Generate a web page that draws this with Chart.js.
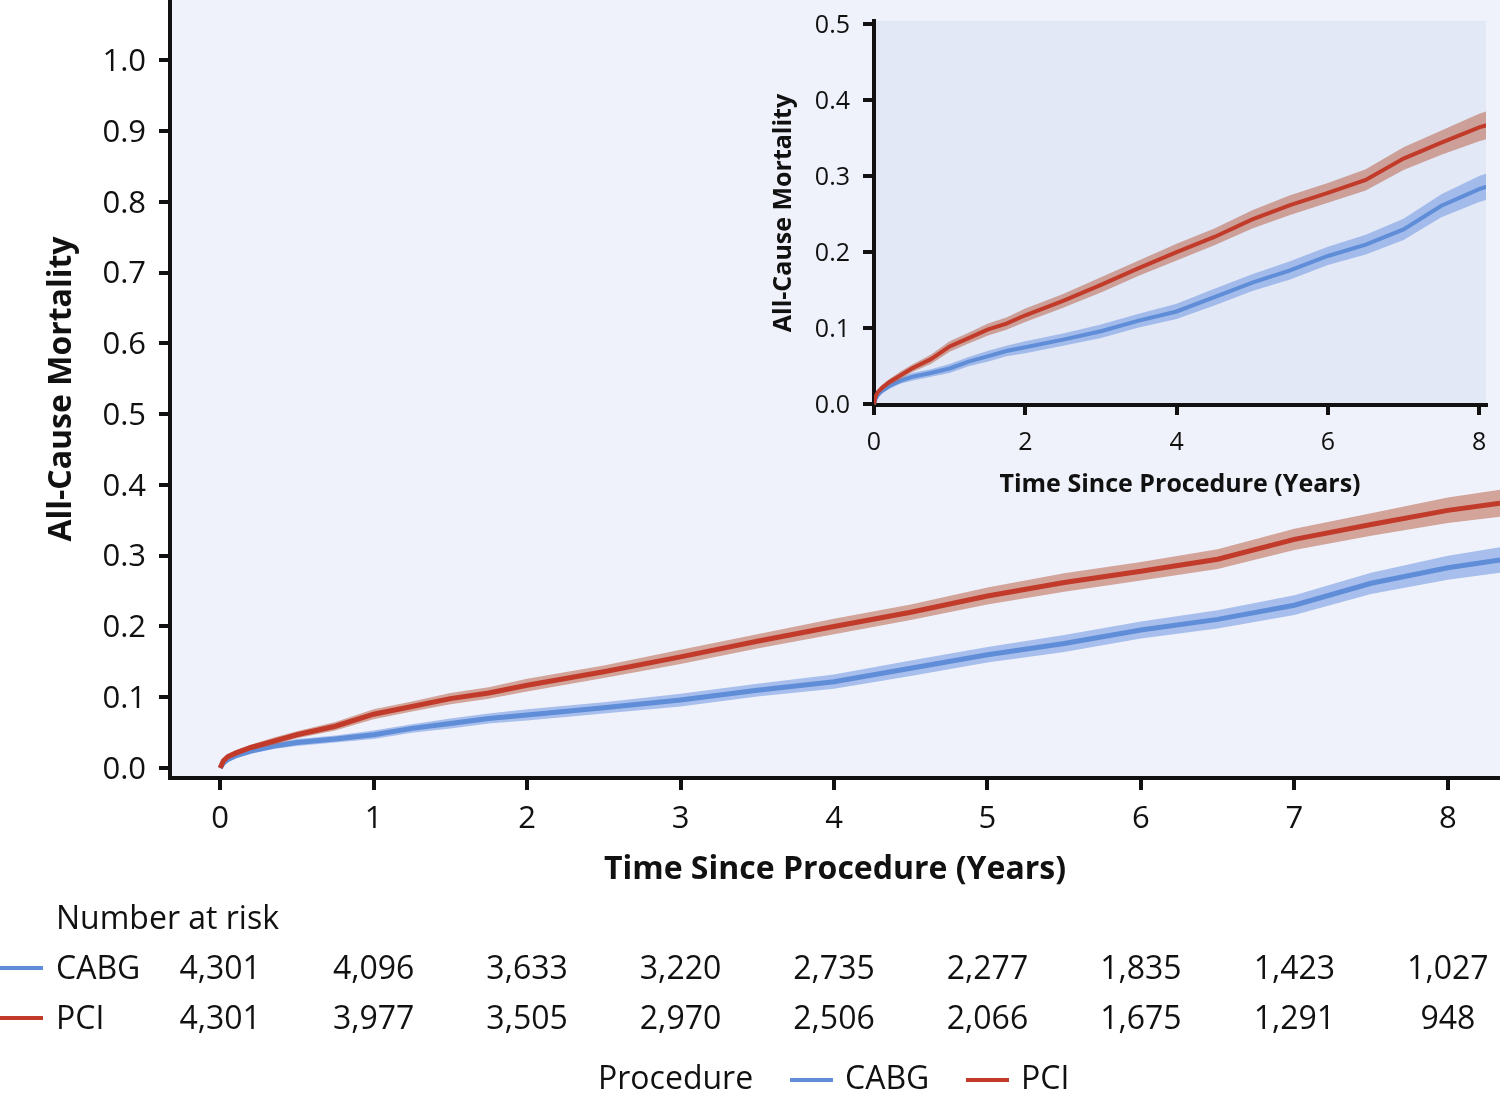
<!DOCTYPE html>
<html>
<head>
<meta charset="utf-8">
<title>All-Cause Mortality: CABG vs PCI</title>
<script src="https://cdn.jsdelivr.net/npm/chart.js@4.4.1/dist/chart.umd.min.js"></script>
<style>
  body { margin: 0; background: #fff; }
  #wrap { position: relative; width: 1500px; height: 1095px; }
  #main-chart { position: absolute; left: 0; top: 0; }
  #inset-chart { position: absolute; left: 760px; top: 0; }
</style>
</head>
<body>
<div id="wrap">
  <canvas id="main-chart" width="1500" height="1095"></canvas>
  <canvas id="inset-chart" width="740" height="510"></canvas>
</div>
<script>
// Kaplan-Meier cumulative mortality
const years = [0, 0.02, 0.05, 0.1, 0.2, 0.35, 0.5, 0.75, 1, 1.25, 1.5, 1.75, 2, 2.5, 3, 3.5, 4, 4.5, 5, 5.5, 6, 6.5, 7, 7.5, 8, 8.34];
const cabgMortality = [0, 0.007, 0.012, 0.017, 0.024, 0.031, 0.036, 0.041, 0.047, 0.056, 0.063, 0.070, 0.075, 0.085, 0.096, 0.110, 0.122, 0.141, 0.160, 0.176, 0.195, 0.210, 0.230, 0.261, 0.283, 0.294];
const pciMortality = [0, 0.010, 0.016, 0.021, 0.029, 0.038, 0.047, 0.059, 0.076, 0.087, 0.098, 0.106, 0.117, 0.136, 0.157, 0.179, 0.200, 0.220, 0.243, 0.262, 0.278, 0.295, 0.323, 0.344, 0.364, 0.374];
// half width of the 95% band
const cabgCiHalf = [0, 0.002, 0.003, 0.003, 0.004, 0.004, 0.005, 0.005, 0.006, 0.006, 0.007, 0.007, 0.008, 0.008, 0.009, 0.009, 0.010, 0.011, 0.011, 0.012, 0.012, 0.013, 0.014, 0.015, 0.017, 0.018];
const pciCiHalf = [0, 0.002, 0.003, 0.004, 0.004, 0.005, 0.005, 0.006, 0.007, 0.007, 0.008, 0.008, 0.009, 0.009, 0.010, 0.010, 0.011, 0.011, 0.012, 0.013, 0.013, 0.014, 0.015, 0.016, 0.018, 0.019];

const mainXTicks = [0, 1, 2, 3, 4, 5, 6, 7, 8];
const mainYTicks = [0, 0.1, 0.2, 0.3, 0.4, 0.5, 0.6, 0.7, 0.8, 0.9, 1.0];
const insetXTicks = [0, 2, 4, 6, 8];
const insetYTicks = [0, 0.1, 0.2, 0.3, 0.4, 0.5];

const riskYears = [0, 1, 2, 3, 4, 5, 6, 7, 8];
const cabgAtRisk = ["4,301", "4,096", "3,633", "3,220", "2,735", "2,277", "1,835", "1,423", "1,027"];
const pciAtRisk = ["4,301", "3,977", "3,505", "2,970", "2,506", "2,066", "1,675", "1,291", "948"];

const CABG_LINE = "#5f8dd8";
const CABG_BAND = "rgba(110, 150, 225, 0.55)";
const PCI_LINE = "#c13a2a";
const PCI_BAND = "rgba(186, 100, 75, 0.55)";
const INK = "#111111";
const FONT = "'Open Sans'";

function points(values, half, sign) {
    return years.map((t, i) => ({ x: t, y: values[i] + (half ? sign * half[i] : 0) }));
}

function buildDatasets(lineWidth) {
    const hidden = "rgba(0,0,0,0)";
    return [
        { data: points(cabgMortality, cabgCiHalf, -1), borderColor: hidden, fill: false, order: 3 },
        { data: points(cabgMortality, cabgCiHalf, 1), borderColor: hidden, backgroundColor: CABG_BAND, fill: 0, order: 3 },
        { label: "CABG", data: points(cabgMortality), borderColor: CABG_LINE, borderWidth: lineWidth, fill: false, order: 2 },
        { data: points(pciMortality, pciCiHalf, -1), borderColor: hidden, fill: false, order: 1 },
        { data: points(pciMortality, pciCiHalf, 1), borderColor: hidden, backgroundColor: PCI_BAND, fill: 3, order: 1 },
        { label: "PCI", data: points(pciMortality), borderColor: PCI_LINE, borderWidth: lineWidth, fill: false, order: 0 },
    ];
}

const plotBackground = {
    id: "plotBackground",
    beforeDraw(chart, args, opts) {
        const { ctx, chartArea } = chart;
        ctx.save();
        if (opts.page) {
            ctx.fillStyle = opts.page;
            ctx.fillRect(0, 0, chart.width, chart.height);
        }
        ctx.fillStyle = opts.color;
        ctx.fillRect(chartArea.left, chartArea.top, chartArea.right - chartArea.left, chartArea.bottom - chartArea.top);
        ctx.restore();
    }
};

const riskTable = {
    id: "riskTable",
    afterDraw(chart) {
        const { ctx } = chart;
        const xScale = chart.scales.x;
        ctx.save();
        ctx.fillStyle = INK;
        ctx.textBaseline = "middle";
        ctx.font = "32px " + FONT;
        ctx.textAlign = "left";
        ctx.fillText("Number at risk", 56, 920);

        const rows = [
            { name: "CABG", color: CABG_LINE, y: 968, counts: cabgAtRisk },
            { name: "PCI", color: PCI_LINE, y: 1018, counts: pciAtRisk },
        ];
        rows.forEach(row => {
            ctx.strokeStyle = row.color;
            ctx.lineWidth = 4;
            ctx.beginPath();
            ctx.moveTo(0, row.y);
            ctx.lineTo(43, row.y);
            ctx.stroke();
            ctx.textAlign = "left";
            ctx.fillText(row.name, 56, row.y + 2);
            ctx.textAlign = "center";
            row.counts.forEach((c, i) => {
                ctx.fillText(c, xScale.getPixelForValue(riskYears[i]), row.y + 2);
            });
        });

        // legend at the bottom
        const ly = 1080;
        ctx.textAlign = "left";
        ctx.fillText("Procedure", 598, ly);
        ctx.lineWidth = 4;
        ctx.strokeStyle = CABG_LINE;
        ctx.beginPath(); ctx.moveTo(790, ly); ctx.lineTo(833, ly); ctx.stroke();
        ctx.fillText("CABG", 845, ly);
        ctx.strokeStyle = PCI_LINE;
        ctx.beginPath(); ctx.moveTo(966, ly); ctx.lineTo(1009, ly); ctx.stroke();
        ctx.fillText("PCI", 1021, ly);
        ctx.restore();
    }
};

function axisStyle(fontSize, tickLength) {
    return {
        grid: { drawOnChartArea: false, color: INK, lineWidth: 4, tickLength: tickLength },
        border: { color: INK, width: 4 },
        ticks: { color: INK, font: { family: FONT, size: fontSize } },
    };
}

function initMainChart() {
    const ctx = document.getElementById("main-chart").getContext("2d");
    const xs = axisStyle(31, 12);
    const ys = axisStyle(31, 11);
    return new Chart(ctx, {
        type: "line",
        data: { datasets: buildDatasets(5) },
        plugins: [plotBackground, riskTable],
        options: {
            responsive: false,
            animation: false,
            events: [],
            layout: { padding: 0, autoPadding: false },
            elements: { point: { radius: 0 }, line: { tension: 0 } },
            plugins: {
                legend: { display: false },
                tooltip: { enabled: false },
                plotBackground: { color: "#eff2fa", page: "#ffffff" },
            },
            scales: {
                x: {
                    type: "linear",
                    min: -0.327,
                    max: 8.34,
                    afterBuildTicks: s => { s.ticks = mainXTicks.map(v => ({ value: v })); },
                    afterFit: s => { s.height = 317; s.paddingLeft = 0; s.paddingRight = 0; },
                    grid: xs.grid,
                    border: xs.border,
                    ticks: Object.assign({}, xs.ticks, { padding: 11, maxRotation: 0, callback: v => String(v) }),
                    title: {
                        display: true,
                        text: "Time Since Procedure (Years)",
                        color: INK,
                        font: { family: FONT, size: 32, weight: "bold" },
                        padding: { top: 0, bottom: 206 },
                    },
                },
                y: {
                    type: "linear",
                    min: -0.0141,
                    max: 1.085,
                    afterBuildTicks: s => { s.ticks = mainYTicks.map(v => ({ value: v })); },
                    afterFit: s => { s.width = 170; s.paddingTop = 0; s.paddingBottom = 0; },
                    grid: ys.grid,
                    border: ys.border,
                    ticks: Object.assign({}, ys.ticks, { padding: 13, labelOffset: 2, callback: v => v.toFixed(1) }),
                    title: {
                        display: true,
                        text: "All-Cause Mortality",
                        color: INK,
                        font: { family: FONT, size: 32, weight: "bold" },
                        padding: { top: 43, bottom: 0 },
                    },
                },
            },
        },
    });
}

function initInsetChart() {
    const ctx = document.getElementById("inset-chart").getContext("2d");
    const xs = axisStyle(25, 10);
    const ys = axisStyle(25, 11);
    return new Chart(ctx, {
        type: "line",
        data: { datasets: buildDatasets(4) },
        plugins: [plotBackground],
        options: {
            responsive: false,
            animation: false,
            events: [],
            layout: { padding: { top: 21, right: 14, left: 0, bottom: 0 }, autoPadding: false },
            elements: { point: { radius: 0 }, line: { tension: 0 } },
            plugins: {
                legend: { display: false },
                tooltip: { enabled: false },
                plotBackground: { color: "#e2e8f6" },
            },
            scales: {
                x: {
                    type: "linear",
                    min: 0,
                    max: 8.09,
                    afterBuildTicks: s => { s.ticks = insetXTicks.map(v => ({ value: v })); },
                    afterFit: s => { s.height = 105; s.paddingLeft = 0; s.paddingRight = 0; },
                    grid: xs.grid,
                    border: xs.border,
                    ticks: Object.assign({}, xs.ticks, { padding: 13, maxRotation: 0, callback: v => String(v) }),
                    title: {
                        display: true,
                        text: "Time Since Procedure (Years)",
                        color: INK,
                        font: { family: FONT, size: 25, weight: "bold" },
                        padding: { top: 0, bottom: 10 },
                    },
                },
                y: {
                    type: "linear",
                    min: -0.001,
                    max: 0.504,
                    afterBuildTicks: s => { s.ticks = insetYTicks.map(v => ({ value: v })); },
                    afterFit: s => { s.width = 114; s.paddingTop = 0; s.paddingBottom = 0; },
                    grid: ys.grid,
                    border: ys.border,
                    ticks: Object.assign({}, ys.ticks, { padding: 13, labelOffset: 2, callback: v => v.toFixed(1) }),
                    title: {
                        display: true,
                        text: "All-Cause Mortality",
                        color: INK,
                        font: { family: FONT, size: 25, weight: "bold" },
                        padding: { top: 9, bottom: 0 },
                    },
                },
            },
        },
    });
}

initMainChart();
initInsetChart();
</script>
</body>
</html>
